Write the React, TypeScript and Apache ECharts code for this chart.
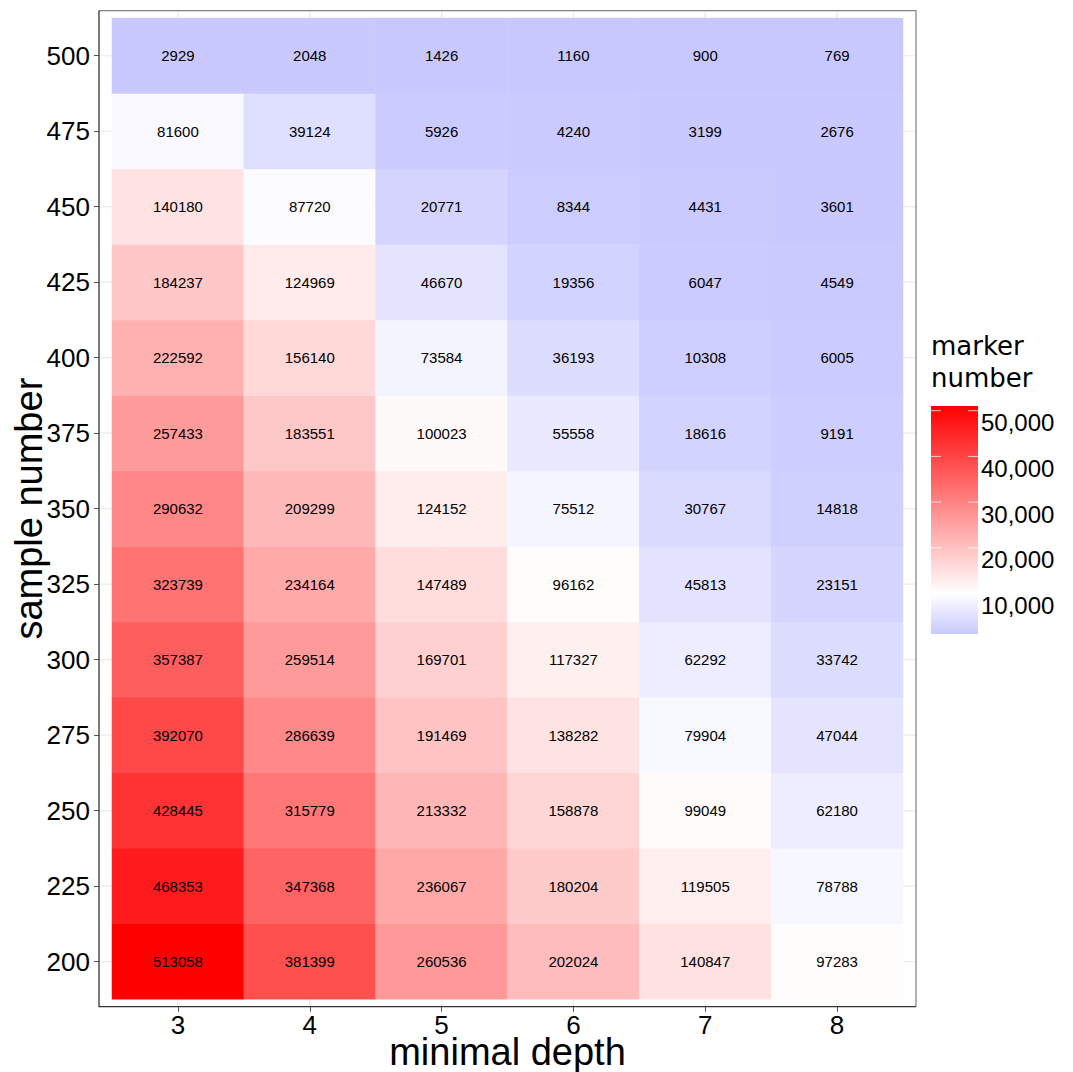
import React, { useEffect, useRef } from "react";
import * as echarts from "echarts";

// ---- data ----
const minimalDepth = ["3", "4", "5", "6", "7", "8"];
const sampleNumber = ["200", "225", "250", "275", "300", "325", "350", "375", "400", "425", "450", "475", "500"];

// marker numbers for each sample number (columns: minimal depth 3..8)
const s200 = [513058, 381399, 260536, 202024, 140847, 97283];
const s225 = [468353, 347368, 236067, 180204, 119505, 78788];
const s250 = [428445, 315779, 213332, 158878, 99049, 62180];
const s275 = [392070, 286639, 191469, 138282, 79904, 47044];
const s300 = [357387, 259514, 169701, 117327, 62292, 33742];
const s325 = [323739, 234164, 147489, 96162, 45813, 23151];
const s350 = [290632, 209299, 124152, 75512, 30767, 14818];
const s375 = [257433, 183551, 100023, 55558, 18616, 9191];
const s400 = [222592, 156140, 73584, 36193, 10308, 6005];
const s425 = [184237, 124969, 46670, 19356, 6047, 4549];
const s450 = [140180, 87720, 20771, 8344, 4431, 3601];
const s475 = [81600, 39124, 5926, 4240, 3199, 2676];
const s500 = [2929, 2048, 1426, 1160, 900, 769];
const rows = [s200, s225, s250, s275, s300, s325, s350, s375, s400, s425, s450, s475, s500];

// legend (colour bar) tick labels and its estimated range
const legendTicks = [10000, 20000, 30000, 40000, 50000];
const legendTop = 51030;
const legendBottom = 1140;

// colour scale midpoint (white)
const colorMid = 92000;

// ---- layout ----
const W = 1073;
const H = 1072;
const G = { left: 112, top: 18, right: 903, bottom: 999.3 };
const PADX = 13;
const PADY = 7.4;
const FONT = "'Liberation Sans', Arial, Helvetica, sans-serif";

function lerpHex(a: number[], b: number[], t: number) {
  const c = a.map((v, i) => Math.round(v + (b[i] - v) * t));
  return `rgb(${c[0]},${c[1]},${c[2]})`;
}

export default function App() {
  const ref = useRef<HTMLDivElement>(null);
  useEffect(() => {
    if (!ref.current) return;
    const chart = echarts.init(ref.current, undefined, { renderer: "svg" });

    const data: number[][] = [];
    rows.forEach((r, yi) => r.forEach((v, xi) => data.push([xi, yi, v])));
    const all = data.map((d) => d[2]);
    const vmax = Math.max(...all);
    const vmin = Math.min(...all);
    const span = vmax - colorMid;
    const scaleMin = colorMid - span;

    const option: any = {
      animation: false,
      backgroundColor: "#ffffff",
      grid: {
        left: G.left,
        top: G.top,
        right: W - G.right,
        bottom: H - G.bottom,
        containLabel: false,
        outerBoundsMode: "none",
      },
      xAxis: {
        type: "category",
        data: minimalDepth,
        position: "bottom",
        offset: PADY,
        axisLine: { show: false },
        axisTick: { show: true, alignWithLabel: true, length: 5, lineStyle: { color: "#555555" } },
        axisLabel: { fontSize: 26, lineHeight: 20, color: "#000", fontFamily: FONT, margin: 8 },
        splitLine: { show: false },
        name: "minimal depth",
        nameLocation: "middle",
        nameGap: 30,
        nameMoveOverlap: false,
        nameTextStyle: { fontSize: 38, lineHeight: 30, color: "#000", fontFamily: FONT },
        z: 6,
      },
      yAxis: {
        type: "category",
        data: sampleNumber,
        position: "left",
        offset: PADX,
        axisLine: { show: false },
        axisTick: { show: true, alignWithLabel: true, length: 5, lineStyle: { color: "#555555" } },
        axisLabel: { fontSize: 26, color: "#000", fontFamily: FONT, margin: 9 },
        splitLine: { show: false },
        name: "sample number",
        nameLocation: "middle",
        nameGap: 55,
        nameMoveOverlap: false,
        nameTextStyle: { fontSize: 38, lineHeight: 30, color: "#000", fontFamily: FONT },
        z: 6,
      },
      visualMap: {
        show: false,
        type: "continuous",
        dimension: 2,
        min: scaleMin,
        max: vmax,
        inRange: { color: ["#0000ff", "#ffffff", "#ff0000"] },
      },
      series: [
        {
          type: "heatmap",
          data,
          z: 5,
          label: {
            show: true,
            fontSize: 15,
            color: "#000",
            fontFamily: FONT,
            formatter: (p: any) => String(p.value[2]),
          },
          emphasis: { disabled: true },
          itemStyle: { borderWidth: 0 },
        },
      ],
    };
    chart.setOption(option);

    // colour bar legend built from the same colour mapping
    const blue = [0, 0, 255];
    const white = [255, 255, 255];
    const red = [255, 0, 0];
    const colorAt = (v: number) => {
      const t = (v - scaleMin) / (vmax - scaleMin);
      return t < 0.5 ? lerpHex(blue, white, t / 0.5) : lerpHex(white, red, (t - 0.5) / 0.5);
    };
    const whiteOffset = (vmax - colorMid) / (vmax - vmin);
    const bar = { x: 931, y: 406, w: 47, h: 228 };
    const legY = (L: number) => bar.y + ((legendTop - L) / (legendTop - legendBottom)) * bar.h;

    const graphics: any[] = [];
    // grid lines (behind tiles) from the axes' scales
    const panel = { l: G.left - PADX, r: G.right + PADX, t: G.top - PADY, b: G.bottom + PADY };
    minimalDepth.forEach((c) => {
      const x = chart.convertToPixel({ xAxisIndex: 0 } as any, c) as unknown as number;
      graphics.push({
        type: "line",
        z: 1,
        shape: { x1: x, y1: panel.t, x2: x, y2: panel.b - 1 },
        style: { stroke: "#ebebeb", lineWidth: 1.2 },
        silent: true,
      });
    });
    sampleNumber.forEach((c) => {
      const y = chart.convertToPixel({ yAxisIndex: 0 } as any, c) as unknown as number;
      graphics.push({
        type: "line",
        z: 1,
        shape: { x1: panel.l + 1, y1: y, x2: panel.r, y2: y },
        style: { stroke: "#ebebeb", lineWidth: 1.2 },
        silent: true,
      });
    });
    // panel border: top/right grey, left/bottom dark axis lines
    graphics.push({
      type: "polyline",
      z: 6,
      shape: { points: [[panel.l, panel.t], [panel.r, panel.t], [panel.r, panel.b]] },
      style: { stroke: "#7f7f7f", lineWidth: 1.2, fill: null },
      silent: true,
    });
    graphics.push({
      type: "polyline",
      z: 7,
      shape: { points: [[panel.l, panel.t], [panel.l, panel.b], [panel.r, panel.b]] },
      style: { stroke: "#333333", lineWidth: 1.3, fill: null },
      silent: true,
    });
    // legend title
    graphics.push({
      type: "text",
      z: 6,
      x: 931,
      y: 346,
      style: { text: "marker", font: "26px 'DejaVu Sans', sans-serif", fill: "#000", verticalAlign: "middle", align: "left" },
    });
    graphics.push({
      type: "text",
      z: 6,
      x: 931,
      y: 378,
      style: { text: "number", font: "26px 'DejaVu Sans', sans-serif", fill: "#000", verticalAlign: "middle", align: "left" },
    });
    // colour bar
    graphics.push({
      type: "rect",
      z: 6,
      shape: { x: bar.x, y: bar.y, width: bar.w, height: bar.h },
      style: {
        fill: new echarts.graphic.LinearGradient(0, 0, 0, 1, [
          { offset: 0, color: colorAt(vmax) },
          { offset: whiteOffset, color: colorAt(colorMid) },
          { offset: 1, color: colorAt(vmin) },
        ]),
      },
      silent: true,
    });
    legendTicks.forEach((L) => {
      const y = legY(L);
      graphics.push({
        type: "line",
        z: 7,
        shape: { x1: bar.x, y1: y, x2: bar.x + 10, y2: y },
        style: { stroke: "rgba(255,255,255,0.75)", lineWidth: 1 },
        silent: true,
      });
      graphics.push({
        type: "line",
        z: 7,
        shape: { x1: bar.x + bar.w - 10, y1: y, x2: bar.x + bar.w, y2: y },
        style: { stroke: "rgba(255,255,255,0.75)", lineWidth: 1 },
        silent: true,
      });
      graphics.push({
        type: "text",
        z: 7,
        x: bar.x + bar.w + 3,
        y: y + 12,
        style: {
          text: L.toLocaleString("en-US"),
          font: `24px ${FONT}`,
          fill: "#000",
          verticalAlign: "middle",
          align: "left",
        },
      });
    });
    chart.setOption({ graphic: graphics });

    return () => chart.dispose();
  }, []);

  return (
    <div
      ref={ref}
      style={{ position: "fixed", left: 0, top: 0, width: W, height: H, background: "#fff" }}
    />
  );
}
